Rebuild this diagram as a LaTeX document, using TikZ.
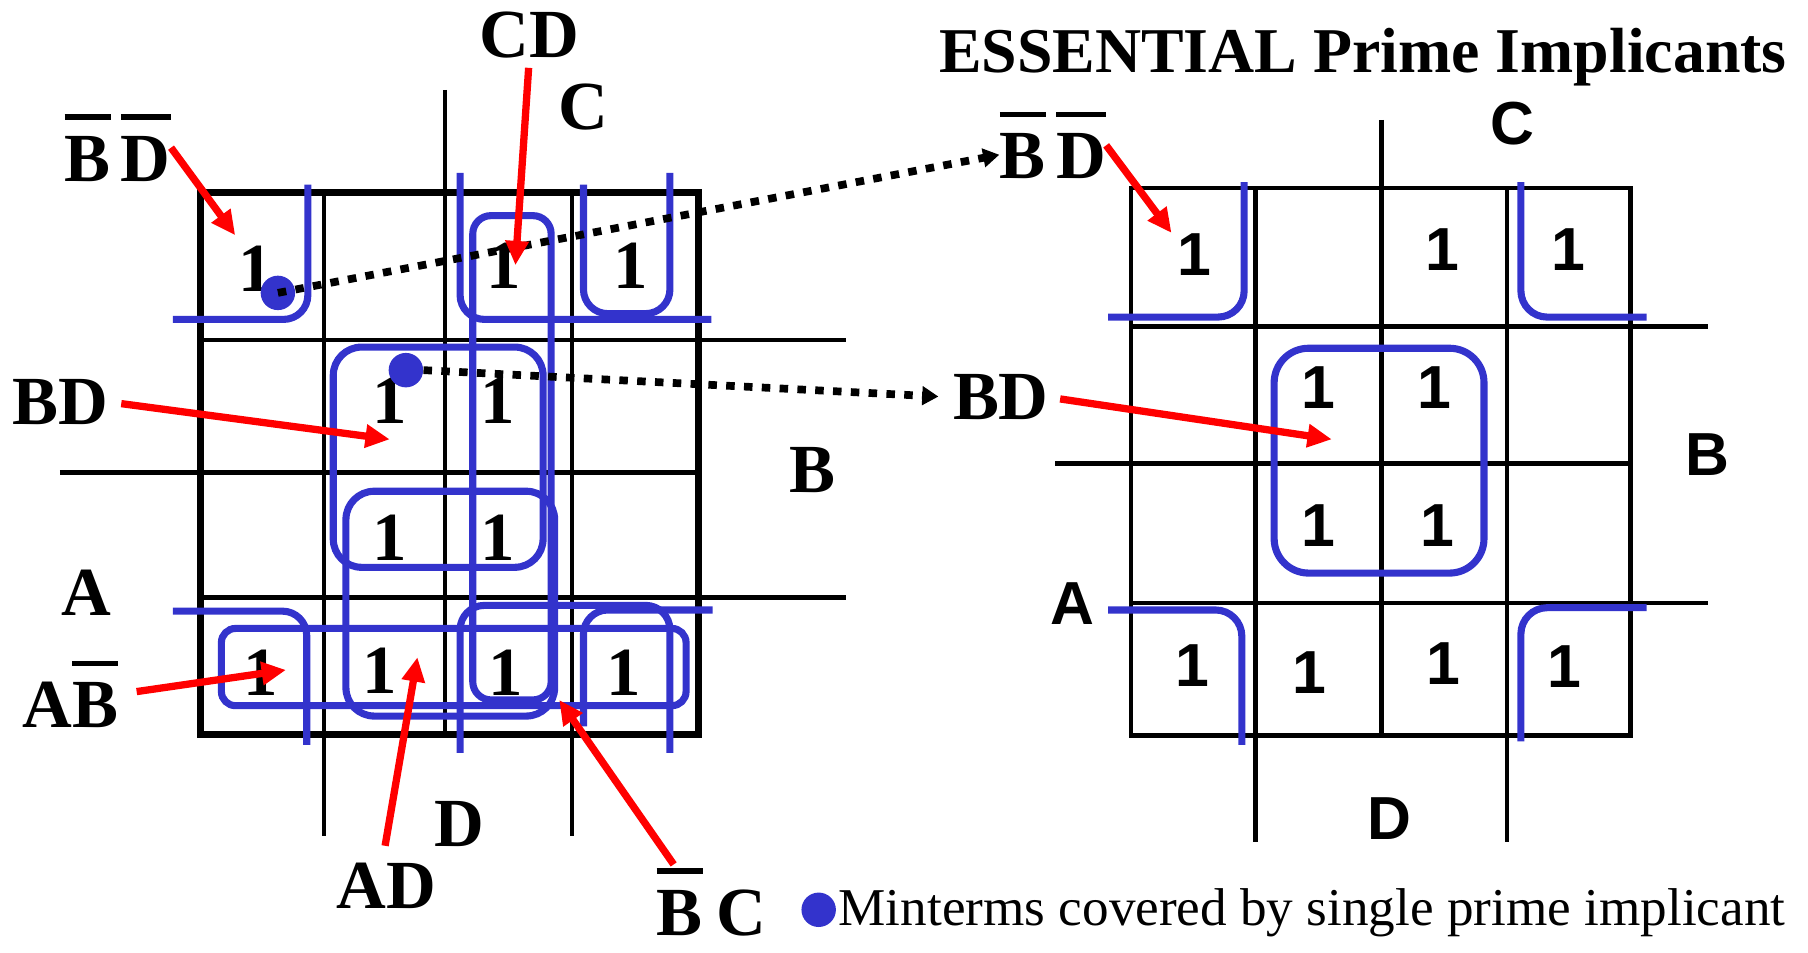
\documentclass[tikz,border=0pt]{standalone}
\usepackage{fontspec}
\setmainfont{Liberation Serif}
\setsansfont{Liberation Sans}
\usetikzlibrary{arrows.meta}

\definecolor{kblue}{RGB}{51,51,204}
\newcommand{\nbar}[1]{\vbox{\hrule height 2.8pt\kern 8pt\hbox{#1}}}

\tikzset{
  kline/.style={line width=2.3pt},
  kframe/.style={line width=3.4pt},
  kloop/.style={draw=kblue, line width=3.5pt, rounded corners=13pt},
  kdot/.style={circle, fill=kblue, inner sep=0pt, minimum size=17pt},
  one/.style={font=\fontsize{34}{40}\selectfont\bfseries, anchor=base, inner sep=0pt},
  sone/.style={font=\fontsize{30}{36}\selectfont\sffamily\bfseries, anchor=base, inner sep=0pt},
  pointer/.style={red, line width=3.6pt, -{Triangle[length=12pt,width=11pt]}},
  carry/.style={line width=3.8pt, dash pattern=on 4.2pt off 4.6pt, -{Triangle[length=8pt,width=9pt]}}
}

\begin{document}
\begin{tikzpicture}[x=0.02cm, y=-0.02cm]
\useasboundingbox (0,0) rectangle (1568,826);

% left map
\draw[kframe] (174,167) rectangle (606,637);
\draw[kline] (281,167) -- (281,725);
\draw[kline] (386,78) -- (386,637);
\draw[kline] (496,167) -- (496,725);
\draw[kline] (174,295) -- (734,295);
\draw[kline] (52,410) -- (606,410);
\draw[kline] (174,518) -- (734,518);

\node[one] (a00) at (222,253) {1};
\node[one] (a02) at (437,250) {1};
\node[one] (a03) at (547,250) {1};
\node[one] (a11) at (338,367) {1};
\node[one] (a12) at (432,367) {1};
\node[one] (a21) at (338,486) {1};
\node[one] (a22) at (432,486) {1};
\node[one] (a30) at (226,603) {1};
\node[one] (a31) at (329,601) {1};
\node[one] (a32) at (439,603) {1};
\node[one] (a33) at (541,603) {1};

% prime implicants
\draw[kloop, rounded corners=12pt] (150,277) -- (267,277) -- (267,160);
\draw[kloop, rounded corners=12pt] (399,150) -- (399,277) -- (617,277);
\draw[kloop, rounded corners=12pt] (506,160) -- (506,272) -- (581,272) -- (581,150);
\draw[kloop, rounded corners=12pt] (150,530) -- (266,530) -- (266,646);
\draw[kloop, rounded corners=12pt] (399,653) -- (399,525) -- (581,525) -- (581,653);
\draw[kloop, rounded corners=12pt] (506,630) -- (506,529) -- (618,529);
\draw[kloop, rounded corners=9pt] (410,187) rectangle (478,607);
\draw[kloop, rounded corners=14pt] (289,301) rectangle (471,492);
\draw[kloop, rounded corners=14pt] (300,426) rectangle (481,621);
\draw[kloop, rounded corners=7pt] (192,545) rectangle (595,612);

\node[kdot] (d1) at (241,254) {};
\node[kdot] (d2) at (352,321) {};

\node[one] (lCD) at (459,50) {CD};
\node[one] (lC) at (506,112) {C};
\node[one] (lBDl) at (102,157) {\nbar{B}\hspace{0.15em}\nbar{D}};
\node[one] (lBD) at (52,368) {BD};
\node[one] (lB) at (705,427) {B};
\node[one] (lA) at (75,534) {A};
\node[one] (lAB) at (61,631) {A\nbar{B}};
\node[one] (lD) at (398,734) {D};
\node[one] (lAD) at (335,788) {AD};
\node[one] (lBC) at (617,811) {\nbar{B}\hspace{0.2em}C};

% right map
\node[font=\fontsize{31.5}{36}\selectfont\bfseries, anchor=base, inner sep=0pt] (title) at (1182,63) {ESSENTIAL Prime Implicants};
\draw[kline] (981,163) rectangle (1414,638);
\draw[kline] (1089,163) -- (1089,730);
\draw[kline] (1198,104) -- (1198,638);
\draw[kline] (1307,163) -- (1307,730);
\draw[kline] (981,283) -- (1481,283);
\draw[kline] (915,402) -- (1414,402);
\draw[kline] (981,523) -- (1481,523);

\node[sone] (b00) at (1036,239) {1};
\node[sone] (b02) at (1251,235) {1};
\node[sone] (b03) at (1360,235) {1};
\node[sone] (b11) at (1143,354) {1};
\node[sone] (b12) at (1244,354) {1};
\node[sone] (b21) at (1143,474) {1};
\node[sone] (b22) at (1247,474) {1};
\node[sone] (b30) at (1034,595) {1};
\node[sone] (b31) at (1136,601) {1};
\node[sone] (b32) at (1252,594) {1};
\node[sone] (b33) at (1357,596) {1};

\draw[kloop] (961,275) -- (1079,275) -- (1079,158);
\draw[kloop] (1319,158) -- (1319,275) -- (1428,275);
\draw[kloop] (961,529) -- (1077,529) -- (1077,646);
\draw[kloop] (1319,643) -- (1319,527) -- (1428,527);
\draw[kloop, rounded corners=17pt] (1105,302) rectangle (1287,497);

\node[sone] (rC) at (1312,125) {C};
\node[sone] (rB) at (1481,412) {B};
\node[sone] (rA) at (930,542) {A};
\node[sone] (rD) at (1205,728) {D};
\node[one] (lBDr) at (913,155) {\nbar{B}\hspace{0.15em}\nbar{D}};
\node[one] (lBDr2) at (868,364) {BD};

% pointers
\coordinate (tBDl) at (204,204);
\coordinate (tCD) at (447,230);
\coordinate (tBD) at (338,381);
\coordinate (tAB) at (248,581);
\coordinate (tAD) at (362,570);
\coordinate (tBC) at (485,607);
\coordinate (tBDr) at (1016,202);
\coordinate (tBDr2) at (1155,381);

\draw[carry] (d1.center) -- (lBDr.190);
\draw[carry, shorten >=7pt] (d2.east) -- (lBDr2.west);

\draw[pointer] (lBDl.east) -- (tBDl);
\draw[pointer, shorten <=4.5pt] (lCD.south) -- (tCD);
\draw[pointer, shorten <=6.5pt] (lBD.east) -- (tBD);
\draw[pointer, shorten <=9pt] (lAB.east) -- (tAB);
\draw[pointer, shorten <=8.5pt] (lAD.100) -- (tAD);
\draw[pointer, shorten <=2pt] (lBC.136) -- (tBC);
\draw[pointer] (lBDr.east) -- (tBDr);
\draw[pointer, shorten <=5.5pt] (lBDr2.east) -- (tBDr2);

% legend
\node[kdot] (key) at (710,789) {};
\node[font=\fontsize{26.25}{30}\selectfont, anchor=base west, inner sep=0pt] (keytxt) at (727,803) {Minterms covered by single prime implicant};
\end{tikzpicture}
\end{document}
